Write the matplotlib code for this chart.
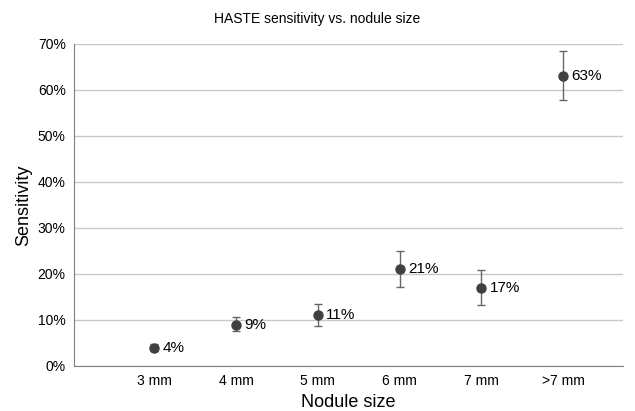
import matplotlib
matplotlib.use("Agg")
import matplotlib.pyplot as plt
from matplotlib.ticker import FuncFormatter

plt.rcParams['font.family'] = ['Liberation Sans', 'DejaVu Sans']

sizes = ["3 mm", "4 mm", "5 mm", "6 mm", "7 mm", ">7 mm"]
sensitivity = [4, 9, 11, 21, 17, 63]
err_low = [3.3, 7.6, 8.7, 17.2, 13.3, 57.8]
err_high = [4.7, 10.6, 13.4, 25.0, 20.9, 68.5]

x = list(range(len(sizes)))
lower = [s - l for s, l in zip(sensitivity, err_low)]
upper = [h - s for s, h in zip(sensitivity, err_high)]

fig = plt.figure(figsize=(6.35, 4.11), dpi=100)
ax = fig.add_axes([0.1165, 0.1095, 0.8645, 0.7835])

ax.errorbar(x, sensitivity, yerr=[lower, upper], fmt='o', color='#404040',
            ecolor='#666666', elinewidth=1, capsize=3, capthick=1,
            markersize=6.5, zorder=3)

for xi, s in zip(x, sensitivity):
    ax.annotate(f"{s}%", (xi, s), xytext=(6, 0), textcoords='offset points',
                va='center', ha='left', fontsize=11, color='#000000')

ax.set_xlim(-0.98, 5.73)
ax.set_ylim(0, 70)
ax.set_yticks(range(0, 71, 10))
ax.yaxis.set_major_formatter(FuncFormatter(lambda v, p: f"{int(v)}%"))
ax.set_xticks(x)
ax.set_xticklabels(sizes)
ax.tick_params(axis='both', length=0, labelsize=10, pad=6)
ax.grid(axis='y', color='#c8c8c8', linewidth=1)
ax.set_axisbelow(True)

for side in ['top', 'right']:
    ax.spines[side].set_visible(False)
ax.spines['left'].set_color('#7f7f7f')
ax.spines['bottom'].set_color('#7f7f7f')

ax.set_xlabel("Nodule size", fontsize=13, labelpad=4)
ax.set_ylabel("Sensitivity", fontsize=13, labelpad=4)
fig.suptitle("HASTE sensitivity vs. nodule size", fontsize=10, y=0.97)

fig.savefig("out.png", dpi=100)
